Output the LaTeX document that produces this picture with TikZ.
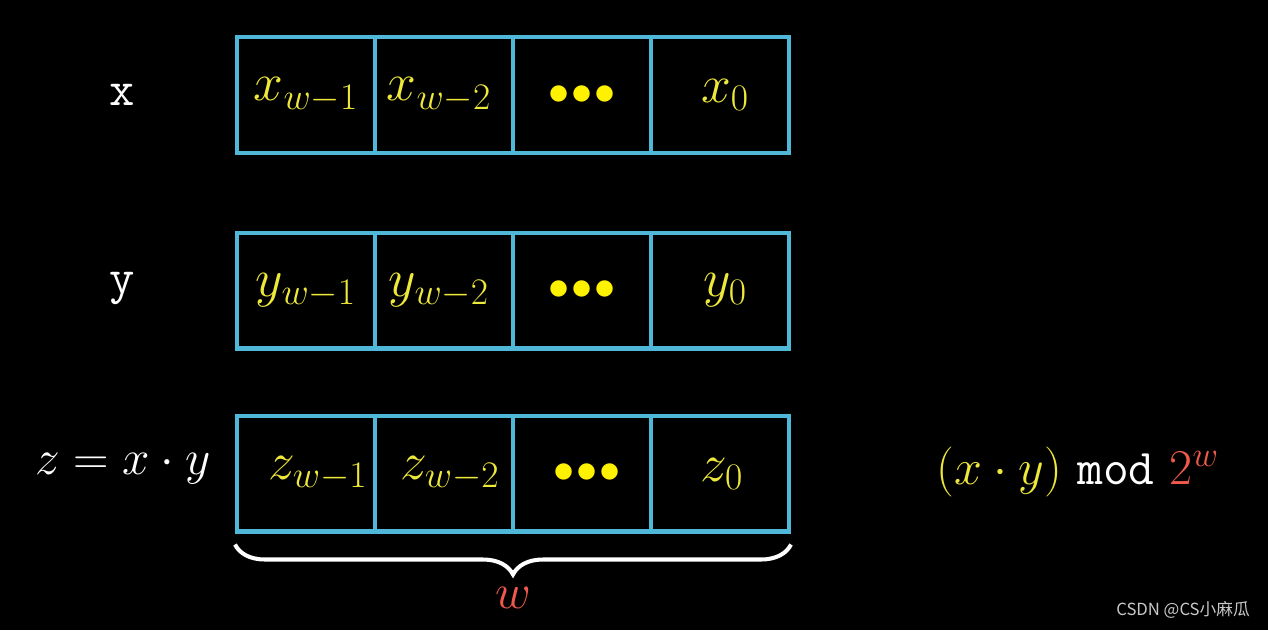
\RequirePackage{fix-cm}
\documentclass[tikz,border=0pt]{standalone}
\usepackage{amsmath}
\usepackage{fontspec}
\newfontfamily\cjk{Noto Sans CJK SC}
\usetikzlibrary{positioning, calc, decorations.pathreplacing}

\definecolor{cellblue}{HTML}{4FB8D8}
\definecolor{bityellow}{HTML}{EEE83A}
\definecolor{modred}{HTML}{F05A4C}
\definecolor{markgray}{HTML}{C8C8C8}

\begin{document}
\begin{tikzpicture}[
    x=0.02cm, y=-0.02cm,
    cell/.style={rectangle, draw=cellblue, line width=2.3pt, minimum width=2.76cm, minimum height=2.32cm, inner sep=0pt},
    bit/.style={text=bityellow, font=\fontsize{30.5}{36}\selectfont},
    dots/.style={text=yellow, font=\fontsize{24}{30}\selectfont},
    rowname/.style={text=white, font=\fontsize{28}{34}\selectfont\ttfamily},
    brace/.style={decorate, decoration={brace, mirror, amplitude=0.6cm}, draw=white, line width=2.3pt}
]

% background fixes the size
\fill[black] (0,0) rectangle (1268,630);

% Row 1: x
\node[rowname] (xname) at (122,95) {x};
\node[cell] (x3) at (306,95) {};
\node[cell] (x2) at (444,95) {};
\node[cell] (x1) at (582,95) {};
\node[cell] (x0) at (720,95) {};
\node[bit] (xb3) at (x3.center) {$x_{w-1}$};
\node[bit] (xb2) at ([xshift=-0.1cm]x2.center) {$x_{w-2}$};
\node[dots] (xb1) at (x1.center) {$\bullet\!\bullet\!\bullet$};
\node[bit] (xb0) at ([xshift=0.1cm]x0.center) {$x_0$};

% Row 2: y
\node[rowname] (yname) at (122,288) {y};
\node[cell] (y3) at (306,290.5) {};
\node[cell] (y2) at (444,290.5) {};
\node[cell] (y1) at (582,290.5) {};
\node[cell] (y0) at (720,290.5) {};
\node[bit] (yb3) at (y3.center) {$y_{w-1}$};
\node[bit] (yb2) at ([xshift=-0.1cm]y2.center) {$y_{w-2}$};
\node[dots] (yb1) at (y1.center) {$\bullet\!\bullet\!\bullet$};
\node[bit] (yb0) at ([xshift=0.1cm]y0.center) {$y_0$};

% Row 3: z = x * y
\node[text=white, font=\fontsize{28}{34}\selectfont] (zname) at (123,468) {$z = x \cdot y$};
\node[cell] (z3) at (306,473.5) {};
\node[cell] (z2) at (444,473.5) {};
\node[cell] (z1) at (582,473.5) {};
\node[cell] (z0) at (720,473.5) {};
\node[bit] (zb3) at ([xshift=0.24cm]z3.center) {$z_{w-1}$};
\node[bit] (zb2) at ([xshift=0.12cm]z2.center) {$z_{w-2}$};
\node[dots] (zb1) at ([xshift=0.1cm]z1.center) {$\bullet\!\bullet\!\bullet$};
\node[bit] (zb0) at ([xshift=0.04cm]z0.center) {$z_0$};

% width brace
\draw[brace] ([yshift=-0.22cm]z3.south west) -- ([yshift=-0.22cm]z0.south east)
    node[midway, below=0.7cm, text=modred, font=\fontsize{28}{34}\selectfont] (wlabel) {$w$};

% result
\node[font=\fontsize{28.5}{34}\selectfont] (result) at (1078,472)
    {\textcolor{bityellow}{$(x \cdot y)$}\ \textcolor{white}{\texttt{mod}}\ \textcolor{modred}{$2^w$}};

% watermark
\node[text=markgray, font=\fontsize{9.5}{11}\selectfont\cjk] (mark) at (1183,610) {CSDN @CS小麻瓜};

\end{tikzpicture}
\end{document}
